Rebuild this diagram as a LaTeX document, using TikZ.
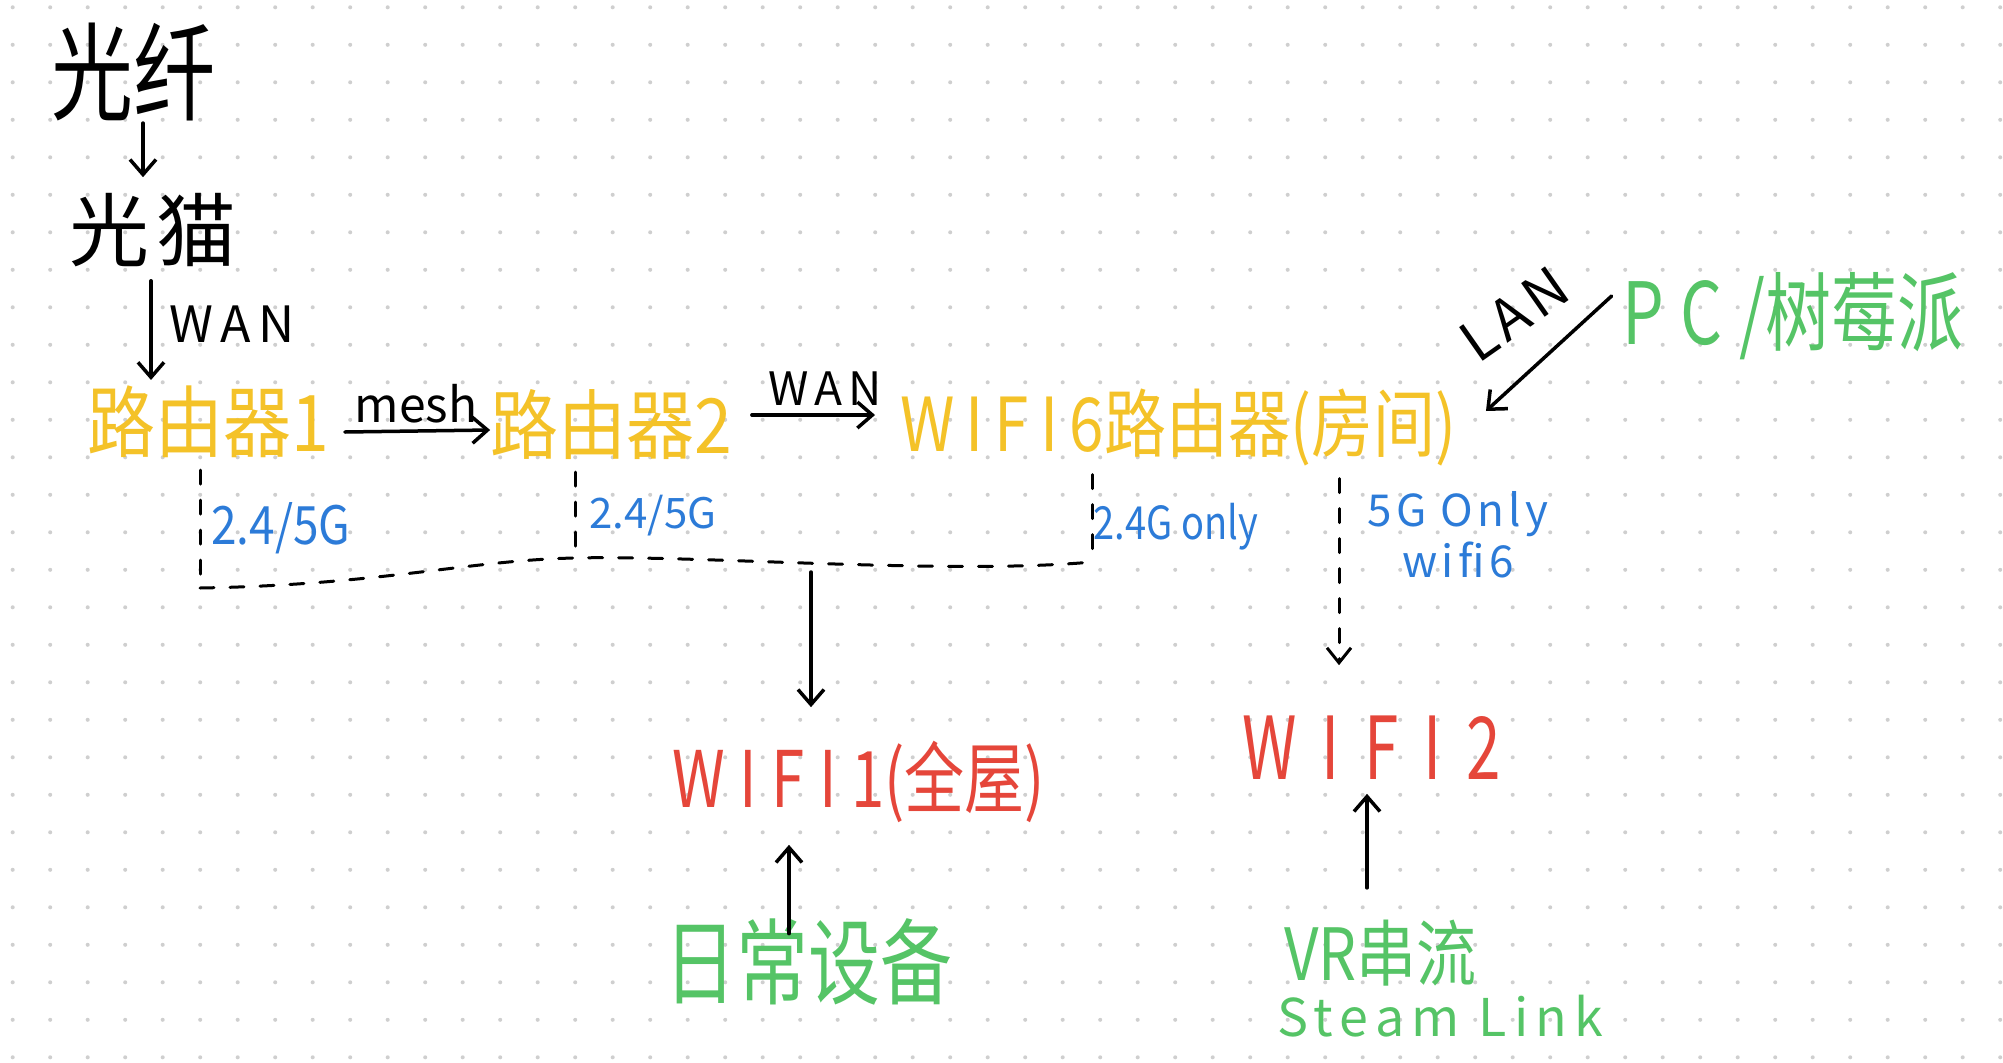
\documentclass[tikz,border=0pt]{standalone}
\usepackage{fontspec}
\setmainfont{Noto Sans CJK SC}
\usetikzlibrary{arrows.meta,calc}
\definecolor{hy}{HTML}{F4C228}
\definecolor{hb}{HTML}{2C7BD8}
\definecolor{hg}{HTML}{55C466}
\definecolor{hr}{HTML}{E5463A}
\definecolor{dotc}{HTML}{CFCFCF}
\newcommand{\fs}[1]{\fontsize{#1pt}{#1pt}\selectfont}
\newcommand{\wide}[1]{\addfontfeature{LetterSpace=#1}}
\newcommand{\vs}[2]{\scalebox{1}[#1]{#2}}
\begin{document}
\begin{tikzpicture}[x=1pt,y=-1pt,
  arr/.style={draw=black, line width=3.5pt, line cap=round,
    -{Straight Barb[length=15pt,width=26pt,line width=3.5pt]}},
  dsh/.style={draw=black, line width=3pt, line cap=round, dash pattern=on 14pt off 16pt},
  lbl/.style={inner sep=0pt, outer sep=0pt},
  blk/.style={lbl, text=black},
  yel/.style={lbl, text=hy},
  blu/.style={lbl, text=hb},
  grn/.style={lbl, text=hg},
  red/.style={lbl, text=hr}]
\fill[white] (0,0) rectangle (2003,1063);
\useasboundingbox (0,0) rectangle (2003,1063);
\foreach \i in {0,...,53}{\foreach \j in {0,...,28}{\fill[dotc] (12.7+37.5*\i,7.3+37.5*\j) circle (2pt);}}

% nodes
\node[blk, font=\fs{82}] (gx) at (133,72) {\vs{1.3}{光纤}};
\node[blk, font=\fs{80}\wide{8}] (gm) at (153,230) {光猫};
\node[blk, font=\fs{50}\wide{15}] (wan1) at (232,324) {WAN};
\node[yel, font=\fs{68}] (r1) at (208,422) {\vs{1.15}{路由器1}};
\node[blk, font=\fs{48}] (mesh) at (416,404) {mesh};
\node[yel, font=\fs{68}] (r2) at (611,425) {\vs{1.12}{路由器2}};
\node[blk, font=\fs{46}\wide{12}] (wan2) at (825,389) {WAN};
\node[yel, font=\fs{62}] (r3) at (1178,428) {\vs{1.2}{{\wide{18}WIFI6}路由器(房间)}};
\node[blk, font=\fs{56}\wide{10}, rotate=35] (lan) at (1514,314) {LAN};
\node[grn, font=\fs{66}] (pc) at (1793,316) {\vs{1.3}{{\wide{25}PC/}树莓派}};
\node[blu, font=\fs{46}] (b1) at (281,528) {\vs{1.15}{2.4/5G}};
\node[blu, font=\fs{42}] (b2) at (653,516) {2.4/5G};
\node[blu, font=\fs{38}] (b3) at (1176,527) {\vs{1.2}{2.4G only}};
\node[blu, font=\fs{44}\wide{10}, align=center] (b4) at (1458,535) {5G Only\\[4pt]wifi6};
\node[red, font=\fs{60}] (w1) at (859,782) {\vs{1.3}{{\wide{24}WIFI1}(全屋)}};
\node[red, font=\fs{62}\wide{40}] (w2) at (1372,748) {\vs{1.4}{WIFI2}};
\node[grn, font=\fs{72}] (dev) at (808,962) {\vs{1.3}{日常设备}};
\node[grn, font=\fs{60}, anchor=west] (vr) at (1284,953) {\vs{1.2}{VR串流}};
\node[grn, font=\fs{52}\wide{14}, anchor=west] (sl) at (1277,1016) {Steam Link};

% junction coordinates on the bus
\coordinate (j1) at (200,588);
\coordinate (j2) at (575,558);
\coordinate (j3) at (1092,562);
\coordinate (jw) at (811,572);

% arrows
\draw[arr] ($(gx.south)+(10,2)$) -- ($(gm.north)+(-10,-16)$);
\draw[arr] ($(gm.south)+(-2,14)$) -- ($(r1.north -| gm.south)+(-2,-6)$);
\draw[arr] ($(r1.east)+(16,10)$) -- ($(r2.west)+(0,5)$);
\draw[arr] ($(r2.east)+(20,-10)$) -- ($(r3.west)+(-25,-13)$);
\draw[arr] ($(pc.west)+(-11,-20)$) -- ($(r3.east)+(30,-17)$);

% dashed wifi links
\draw[dsh] ($(r1.south -| j1)+(0,12)$) -- (j1);
\draw[dsh] ($(r2.south -| j2)+(0,12)$) -- (j2);
\draw[dsh] ($(r3.south -| j3)+(0,8)$) -- (j3);
\draw[dsh] (j1) .. controls (380,585) and (470,560) .. (j2)
  .. controls (700,555) and (950,575) .. (j3);
\draw[arr] (jw) -- ($(w1.north -| jw)+(0,-34)$);

\draw[dsh, -{Straight Barb[length=15pt,width=24pt,line width=3pt]}]
  ($(r3.south)+(161,12)$) -- ($(w2.north)+(-33,-51)$);

\draw[arr] ($(vr.north -| w2.south)+(-5,-32)$) -- ($(w2.south)+(-5,14)$);
\draw[arr] ($(dev.north)+(-19,15)$) -- ($(w1.south)+(-70,22)$);
\end{tikzpicture}
\end{document}
